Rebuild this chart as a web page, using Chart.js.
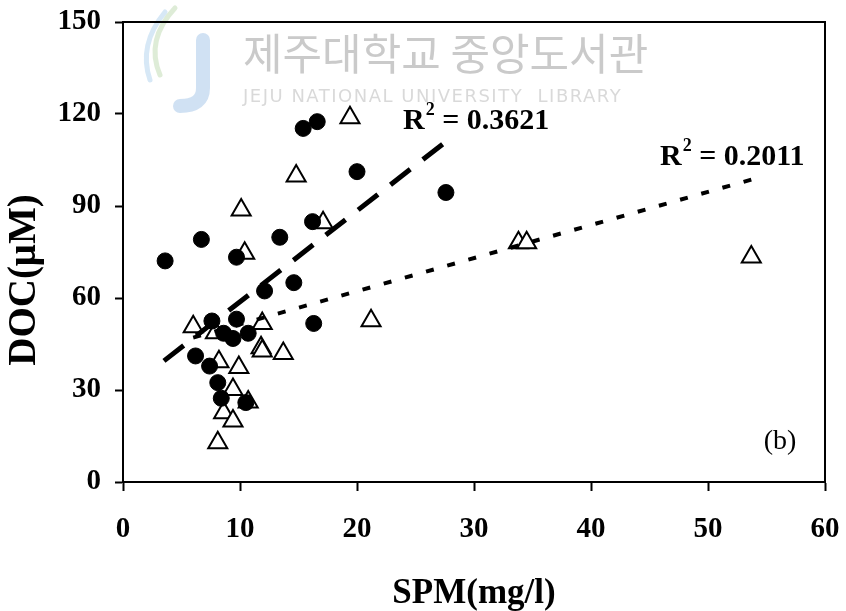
<!DOCTYPE html>
<html>
<head>
<meta charset="utf-8">
<script src="https://cdn.jsdelivr.net/npm/chart.js"></script>
<style>
  html, body { margin: 0; padding: 0; background: #fff; }
  canvas { display: block; }
</style>
</head>
<body>
<canvas id="chart" width="846" height="611"></canvas>
<script>
// filled circles (SPM mg/l, DOC uM)
const circleSPM = [3.6, 6.7, 9.7, 12.1, 13.4, 14.6, 15.4, 16.6, 16.2, 16.3, 20.0, 27.6,
                   7.6, 9.7, 8.6, 9.4, 10.7, 6.2, 7.4, 8.1, 8.4, 10.5];
const circleDOC = [72.1, 79.1, 73.3, 62.3, 79.8, 65.0, 115.3, 117.5, 84.9, 51.7, 101.2, 94.4,
                   52.5, 53.1, 48.5, 46.8, 48.5, 41.1, 37.8, 32.4, 27.3, 25.9];

// open triangles
const triSPM = [6.0, 7.9, 11.9, 11.8, 11.9, 13.7, 8.2, 9.9, 9.4, 10.7, 8.6, 9.4, 8.1,
                10.4, 10.1, 14.8, 17.1, 19.4, 21.2, 33.8, 34.5, 53.7];
const triDOC = [50.6, 48.7, 51.7, 43.8, 42.7, 41.9, 39.2, 37.3, 30.2, 26.1, 22.6, 19.9, 12.8,
                74.6, 88.7, 99.8, 84.5, 118.8, 52.6, 78.0, 78.0, 73.4];

// trend lines (end points)
const fitCircleX = [3.5, 27.6];
const fitCircleY = [39.5, 111.0];
const fitTriX = [6.0, 53.7];
const fitTriY = [47.1, 98.6];

const xTicks = [0, 10, 20, 30, 40, 50, 60];
const yTicks = [0, 30, 60, 90, 120, 150];

const SERIF = "'Liberation Serif', 'Times New Roman', serif";

const pts = (xs, ys) => xs.map((x, i) => ({ x, y: ys[i] }));

// frame, labels, watermark
const extras = {
  id: 'extras',
  beforeDatasetsDraw(chart) {
    const ctx = chart.ctx;
    ctx.save();
    // faint library logo
    ctx.lineCap = 'round';
    ctx.strokeStyle = 'rgba(120,170,220,0.35)';
    ctx.lineWidth = 14;
    ctx.beginPath();
    ctx.moveTo(203, 40);
    ctx.lineTo(203, 88);
    ctx.quadraticCurveTo(203, 106, 180, 106);
    ctx.stroke();
    ctx.lineWidth = 5;
    ctx.strokeStyle = 'rgba(160,200,140,0.35)';
    ctx.beginPath();
    ctx.moveTo(175, 8);
    ctx.quadraticCurveTo(145, 40, 160, 75);
    ctx.stroke();
    ctx.strokeStyle = 'rgba(140,190,230,0.35)';
    ctx.beginPath();
    ctx.moveTo(165, 12);
    ctx.quadraticCurveTo(138, 45, 150, 80);
    ctx.stroke();

    ctx.fillStyle = 'rgba(150,150,150,0.5)';
    ctx.font = "43px 'Noto Sans CJK KR'";
    ctx.textBaseline = 'middle';
    ctx.fillText('제주대학교 중앙도서관', 243, 54);
    ctx.fillStyle = 'rgba(160,160,160,0.4)';
    ctx.font = "18px 'DejaVu Sans'";
    ctx.letterSpacing = '1.5px';
    ctx.fillText('JEJU NATIONAL UNIVERSITY  LIBRARY', 243, 97);
    ctx.restore();
  },
  afterDraw(chart) {
    const ctx = chart.ctx;
    const a = chart.chartArea;
    ctx.save();
    ctx.strokeStyle = '#000';
    ctx.lineWidth = 2;
    ctx.beginPath();
    ctx.moveTo(a.left, a.top);
    ctx.lineTo(a.right, a.top);
    ctx.lineTo(a.right, a.bottom);
    ctx.stroke();

    const rsq = (x, y, val) => {
      ctx.fillStyle = '#000';
      ctx.textBaseline = 'alphabetic';
      ctx.font = 'bold 30px ' + SERIF;
      ctx.fillText('R', x, y);
      const w = ctx.measureText('R').width;
      ctx.font = 'bold 18px ' + SERIF;
      ctx.fillText('2', x + w + 1, y - 14);
      const w2 = ctx.measureText('2').width;
      ctx.font = 'bold 30px ' + SERIF;
      ctx.fillText(' = ' + val, x + w + w2 + 1, y);
    };
    rsq(403, 129, '0.3621');
    rsq(660, 165, '0.2011');

    ctx.font = '28px ' + SERIF;
    ctx.textAlign = 'center';
    ctx.textBaseline = 'middle';
    ctx.fillText('(b)', 780, 442);

    ctx.translate(25, 280);
    ctx.rotate(-Math.PI / 2);
    ctx.font = 'bold 39px ' + SERIF;
    ctx.fillText('DOC(\u03BCM)', 0, 0);
    ctx.restore();
  }
};

new Chart(document.getElementById('chart'), {
  type: 'scatter',
  data: {
    datasets: [
      {
        type: 'line',
        data: pts(fitCircleX, fitCircleY),
        borderColor: '#000',
        borderWidth: 5,
        borderDash: [25, 16],
        pointRadius: 0,
        fill: false
      },
      {
        type: 'line',
        data: pts(fitTriX, fitTriY),
        borderColor: '#000',
        borderWidth: 4,
        borderDash: [8, 14],
        pointRadius: 0,
        fill: false
      },
      {
        data: pts(circleSPM, circleDOC),
        pointStyle: 'circle',
        pointRadius: 8,
        backgroundColor: '#000',
        borderColor: '#000',
        borderWidth: 1
      },
      {
        data: pts(triSPM, triDOC),
        pointStyle: 'triangle',
        pointRadius: 11,
        backgroundColor: '#fff',
        borderColor: '#000',
        borderWidth: 2
      }
    ]
  },
  options: {
    responsive: false,
    animation: false,
    layout: { padding: { top: 22, right: 21, left: 0, bottom: 0 } },
    plugins: {
      legend: { display: false },
      tooltip: { enabled: false }
    },
    scales: {
      x: {
        type: 'linear',
        min: 0,
        max: 60,
        afterBuildTicks: s => { s.ticks = xTicks.map(v => ({ value: v })); },
        afterFit: s => {
          s.height = 129;
          s.paddingLeft = 0;
          s.paddingRight = 0;
        },
        ticks: {
          color: '#000',
          padding: 21,
          font: { family: SERIF, size: 29, weight: 'bold' }
        },
        grid: { drawOnChartArea: false, tickLength: 9, tickColor: '#000', tickWidth: 2 },
        border: { color: '#000', width: 2 },
        title: {
          display: true,
          text: 'SPM(mg/l)',
          color: '#000',
          padding: { top: 18, bottom: -4 },
          font: { family: SERIF, size: 35, weight: 'bold' }
        }
      },
      y: {
        type: 'linear',
        min: 0,
        max: 150,
        afterBuildTicks: s => { s.ticks = yTicks.map(v => ({ value: v })); },
        afterFit: s => {
          s.width = 123;
          s.paddingTop = 0;
          s.paddingBottom = 0;
        },
        ticks: {
          color: '#000',
          padding: 14,
          font: { family: SERIF, size: 29, weight: 'bold' }
        },
        grid: { drawOnChartArea: false, tickLength: 8, tickColor: '#000', tickWidth: 2 },
        border: { color: '#000', width: 2 }
      }
    }
  },
  plugins: [extras]
});
</script>
</body>
</html>
